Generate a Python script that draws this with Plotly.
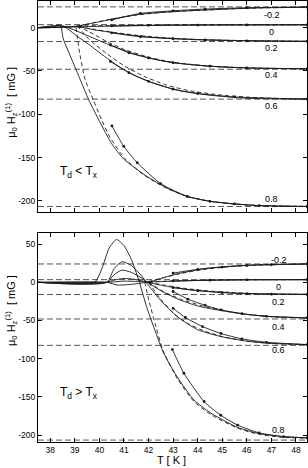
import plotly.graph_objects as go

# ---------------- data ----------------
params = ["-0.2", "0", "0.2", "0.4", "0.6", "0.8"]
asymptotes = [24, 3.5, -16, -48, -82.5, -206.5]

x_ticks = [38, 39, 40, 41, 42, 43, 44, 45, 46, 47, 48]
top_yticks = [0, -50, -100, -150, -200]
bot_yticks = [50, 0, -50, -100, -150, -200]

# ---- top panel (T_d < T_x) ----
top_m02_solid_T = [37.5, 38.5, 39.15, 39.6, 40.2, 41, 41.67, 42.5, 43.5, 44.3, 45.5, 46.5, 48.45]
top_m02_solid_v = [0, 0.5, 2, 4.5, 8, 12.5, 15.5, 17.5, 19.3, 20.3, 21.8, 22.8, 23.6]
top_m02_dash_T = [39.15, 39.8, 40.6, 41.5, 42.5, 44, 46, 48.45]
top_m02_dash_v = [2, 6, 10.5, 14.5, 17.5, 20, 22.5, 23.6]
top_m02_dot_T = [40.5, 41.67, 43, 44.3, 46, 48.45]
top_m02_dot_v = [9, 16.5, 19.5, 21.5, 23, 23.8]

top_0_solid_T = [37.5, 39.1, 40, 41, 42, 43.5, 45, 48.45]
top_0_solid_v = [0, 1, 1.5, 2, 2.5, 3, 3.2, 3.3]
top_0_dash_T = [39.1, 40.5, 42, 44, 48.45]
top_0_dash_v = [2, 2.5, 3, 3.2, 3.3]
top_0_dot_T = [40.5, 42, 44, 46, 48.45]
top_0_dot_v = [2, 2.7, 3, 3.2, 3.3]

top_02_solid_T = [37.5, 38.5, 39.15, 39.8, 40.5, 41.67, 43, 44.3, 46, 48.45]
top_02_solid_v = [0, 0.5, 1, -2.5, -5.5, -10, -12.5, -14, -15, -15.8]
top_02_dash_T = [39.15, 39.8, 40.6, 41.6, 42.8, 44.3, 46, 48.45]
top_02_dash_v = [1, -2, -5.5, -9, -12, -14, -15, -15.8]
top_02_dot_T = [40.5, 41.67, 43, 44.3, 46, 48.45]
top_02_dot_v = [-6, -10.5, -12.8, -14.2, -15.2, -15.8]

top_04_solid_T = [37.5, 38.5, 39.5, 40.5, 41.5, 42.5, 43.5, 44.5, 46, 48.45]
top_04_solid_v = [0, 2, -9, -21, -31, -38, -42, -44.5, -46.5, -47.5]
top_04_dash_T = [39.1, 39.6, 40.3, 41, 42, 43, 44.5, 46, 48.45]
top_04_dash_v = [2, -5, -16, -25, -34, -40, -44.5, -46.5, -47.5]
top_04_dot_T = [40.45, 41.2, 42, 43, 44.5, 46, 48.45]
top_04_dot_v = [-20, -29, -35, -40.5, -44.5, -46.5, -47.5]

top_06_solid_T = [37.5, 38.5, 39.1, 39.6, 40.2, 40.8, 41.5, 42.3, 43.3, 44.5, 46, 48.45]
top_06_solid_v = [0, 2, -10, -20, -33, -45, -56, -65, -73, -78, -81.5, -82.5]
top_06_dash_T = [39.1, 39.6, 40.3, 41, 41.8, 42.7, 43.7, 45, 46.5, 48.45]
top_06_dash_v = [2, -14, -30, -44, -56, -66, -73, -78, -81, -82.5]
top_06_dot_T = [40.45, 41.2, 42, 43, 44, 45.5, 48.45]
top_06_dot_v = [-39, -52, -62, -71, -76, -80, -82.5]

top_08_solid_T = [37.5, 38.0, 38.4, 38.53, 38.88, 39.22, 39.56, 40.0, 40.5, 41.0, 41.95, 42.8, 43.6, 44.5, 45.5, 46.5, 48.45]
top_08_solid_v = [0, 0, 3, -13, -37, -60, -83, -108, -134, -152, -172, -186, -195, -200.5, -203.5, -205.5, -206.5]
top_08_dash_T = [39.05, 39.2, 39.42, 39.76, 40.1, 40.44, 41, 41.8, 42.7, 43.6, 44.6, 45.6, 46.6, 48.45]
top_08_dash_v = [0, -30, -60, -84, -107, -127, -150, -170, -185, -195, -201, -204, -205.5, -206.5]
top_08_dot_T = [40.51, 40.99, 41.54, 42.49, 43.58, 44.5, 45.5, 46.5, 48.45]
top_08_dot_v = [-113.5, -137, -156, -180, -195, -200.5, -203.5, -205.5, -206.5]

# ---- bottom panel (T_d > T_x) ----
bot_m02_solid_T = [37.5, 40.3, 40.72, 41.2, 41.7, 42.1, 42.6, 43.3, 44.29, 44.95, 46, 47, 48.45]
bot_m02_solid_v = [0, 0, -3.5, -3, -1, 1, 6, 12, 18, 20, 22.5, 23.5, 24]
bot_m02_dash_T = [42.0, 42.6, 43.3, 44.3, 45.3, 46.5, 48.45]
bot_m02_dash_v = [1, 6, 11.5, 17, 20.5, 22.5, 24]
bot_m02_dot_T = [43.0, 44, 45, 46, 47, 48.45]
bot_m02_dot_v = [12, 17, 20, 22, 23, 24]

bot_0_solid_T = [37.5, 40.3, 41.0, 41.6, 42.05, 43, 44.5, 46, 48.45]
bot_0_solid_v = [0, 0, 1.5, 1, 0.5, 1.5, 2.8, 3.3, 3.5]
bot_0_dash_T = [42.0, 43, 44.5, 46, 48.45]
bot_0_dash_v = [0.5, 1.8, 2.8, 3.3, 3.5]
bot_0_dot_T = [43.0, 44.5, 46, 48.45]
bot_0_dot_v = [1.8, 2.8, 3.3, 3.5]

bot_02_solid_T = [37.5, 40.3, 40.6, 41.0, 41.4, 41.8, 42.1, 42.7, 43.5, 44.5, 45.5, 46.5, 48.45]
bot_02_solid_v = [0, 0, 3, 5, 4, 1.5, -1, -5, -9, -12, -14, -15, -15.8]
bot_02_dash_T = [42.0, 42.7, 43.5, 44.5, 45.5, 46.5, 48.45]
bot_02_dash_v = [0, -4, -8, -11.5, -13.5, -15, -15.8]
bot_02_dot_T = [43.0, 44, 45, 46, 47, 48.45]
bot_02_dot_v = [-7, -11, -13.5, -15, -15.5, -15.8]

bot_04_solid_T = [37.5, 40.3, 40.6, 40.92, 41.3, 41.7, 42.0, 42.5, 43.2, 44, 44.95, 46, 47, 48.45]
bot_04_solid_v = [0, 0, 10, 16, 13, 6, -1, -11, -22, -31, -37, -42, -45, -46.5]
bot_04_dash_T = [42.0, 42.6, 43.3, 44.2, 45.2, 46.3, 47.3, 48.45]
bot_04_dash_v = [0, -12, -22, -31, -38, -43, -45.5, -46.5]
bot_04_dot_T = [43.0, 43.6, 44.3, 44.95, 45.8, 46.8, 48.45]
bot_04_dot_v = [-12, -22, -30, -36, -41, -44.5, -46.5]

bot_06_solid_T = [37.5, 40.3, 40.6, 40.92, 41.3, 41.7, 42.0, 42.5, 43.17, 44.0, 44.95, 46, 47, 48.45]
bot_06_solid_v = [0, 0, 18, 27, 22, 9, -4, -24, -45, -62, -71, -77, -80, -81.5]
bot_06_dash_T = [42.0, 42.5, 43.0, 43.6, 44.3, 45, 46, 47, 48.45]
bot_06_dash_v = [0, -22, -40, -54, -64, -71, -77, -80, -81.5]
bot_06_dot_T = [43.0, 43.5, 44.2, 44.95, 45.8, 46.8, 48.45]
bot_06_dot_v = [-34, -46, -58, -67, -74, -78.5, -81.5]

bot_08_solid_T = [37.5, 39.8, 40.1, 40.4, 40.7, 41.0, 41.3, 41.6, 41.95, 42.25, 42.62, 43.17, 43.85, 44.53, 45.63, 46.5, 47.5, 48.45]
bot_08_solid_v = [0, 0, 18, 45, 56, 48, 30, 3, -35, -62, -93, -124, -154, -171, -190, -198, -202, -203.5]
bot_08_dash_T = [41.85, 42.0, 42.3, 42.6, 43.17, 43.85, 44.53, 45.63, 46.5, 47.5, 48.45]
bot_08_dash_v = [0, -22, -58, -90, -126, -156, -173, -191, -199, -203, -204]
bot_08_dot_T = [42.97, 43.44, 44.26, 44.94, 45.63, 46.5, 47.5, 48.45]
bot_08_dot_v = [-88, -119, -156, -174, -187, -197, -202, -203.5]

# label positions
top_label_T = 47.02
top_label_v = [14.7, -4.6, -23.8, -54.6, -90.4, -198.2]
bot_label_T = 47.3
bot_label_v = [29.2, -5.7, -25.4, -58.1, -88.6, -193.3]

# ---------------- figure ----------------
FONT = "Liberation Sans, Arial, Helvetica, sans-serif"
LC = "#1a1a1a"
fig = go.Figure()


def add(T, v, xa, ya, kind):
    if kind == "solid":
        fig.add_trace(go.Scatter(x=T, y=v, mode="lines", xaxis=xa, yaxis=ya,
                                 line=dict(color=LC, width=0.9, shape="spline", smoothing=0.6),
                                 showlegend=False, hoverinfo="skip"))
    elif kind == "dash":
        fig.add_trace(go.Scatter(x=T, y=v, mode="lines", xaxis=xa, yaxis=ya,
                                 line=dict(color=LC, width=0.9, dash="4px,3px", shape="spline", smoothing=0.6),
                                 showlegend=False, hoverinfo="skip"))
    else:
        fig.add_trace(go.Scatter(x=T, y=v, mode="lines+markers", xaxis=xa, yaxis=ya,
                                 line=dict(color=LC, width=0.9, shape="spline", smoothing=0.6),
                                 marker=dict(size=2.8, color=LC),
                                 showlegend=False, hoverinfo="skip"))


top_sets = [
    (top_m02_solid_T, top_m02_solid_v, top_m02_dash_T, top_m02_dash_v, top_m02_dot_T, top_m02_dot_v),
    (top_0_solid_T, top_0_solid_v, top_0_dash_T, top_0_dash_v, top_0_dot_T, top_0_dot_v),
    (top_02_solid_T, top_02_solid_v, top_02_dash_T, top_02_dash_v, top_02_dot_T, top_02_dot_v),
    (top_04_solid_T, top_04_solid_v, top_04_dash_T, top_04_dash_v, top_04_dot_T, top_04_dot_v),
    (top_06_solid_T, top_06_solid_v, top_06_dash_T, top_06_dash_v, top_06_dot_T, top_06_dot_v),
    (top_08_solid_T, top_08_solid_v, top_08_dash_T, top_08_dash_v, top_08_dot_T, top_08_dot_v),
]
bot_sets = [
    (bot_m02_solid_T, bot_m02_solid_v, bot_m02_dash_T, bot_m02_dash_v, bot_m02_dot_T, bot_m02_dot_v),
    (bot_0_solid_T, bot_0_solid_v, bot_0_dash_T, bot_0_dash_v, bot_0_dot_T, bot_0_dot_v),
    (bot_02_solid_T, bot_02_solid_v, bot_02_dash_T, bot_02_dash_v, bot_02_dot_T, bot_02_dot_v),
    (bot_04_solid_T, bot_04_solid_v, bot_04_dash_T, bot_04_dash_v, bot_04_dot_T, bot_04_dot_v),
    (bot_06_solid_T, bot_06_solid_v, bot_06_dash_T, bot_06_dash_v, bot_06_dot_T, bot_06_dot_v),
    (bot_08_solid_T, bot_08_solid_v, bot_08_dash_T, bot_08_dash_v, bot_08_dot_T, bot_08_dot_v),
]

XR = [37.5, 48.45]
for a in asymptotes:
    for xa, ya in (("x2", "y2"), ("x", "y")):
        fig.add_trace(go.Scatter(x=XR, y=[a, a], mode="lines", xaxis=xa, yaxis=ya,
                                 line=dict(color="#555555", width=1, dash="6px,3px"),
                                 showlegend=False, hoverinfo="skip"))

for s in top_sets:
    add(s[0], s[1], "x2", "y2", "solid")
    add(s[2], s[3], "x2", "y2", "dash")
    add(s[4], s[5], "x2", "y2", "dot")
for s in bot_sets:
    add(s[0], s[1], "x", "y", "solid")
    add(s[2], s[3], "x", "y", "dash")
    add(s[4], s[5], "x", "y", "dot")

tickfont = dict(family=FONT, size=8.5, color="black")
axis_common = dict(showgrid=False, zeroline=False, showline=True, linecolor="black", linewidth=1,
                   mirror="ticks", ticks="inside", ticklen=4, tickwidth=1, tickcolor="black",
                   tickfont=tickfont)

fig.update_layout(
    width=308, height=468,
    margin=dict(l=38, r=1, t=1, b=26),
    paper_bgcolor="white", plot_bgcolor="white",
    xaxis=dict(domain=[0, 1], anchor="y", range=XR, tickvals=x_ticks,
               ticktext=[str(t) for t in x_ticks], **axis_common),
    yaxis=dict(domain=[0, 0.4728], anchor="x", range=[-209, 63.9], tickvals=bot_yticks,
               ticktext=[str(t) for t in bot_yticks], **axis_common),
    xaxis2=dict(domain=[0, 1], anchor="y2", range=XR, tickvals=x_ticks, showticklabels=False,
                **axis_common),
    yaxis2=dict(domain=[0.5209, 1], anchor="x2", range=[-213.2, 30.8], tickvals=top_yticks,
                ticktext=[str(t) for t in top_yticks], **axis_common),
)

ann = []
for lab, v in zip(params, top_label_v):
    ann.append(dict(x=top_label_T, y=v, xref="x2", yref="y2", text=lab, showarrow=False,
                    font=dict(family=FONT, size=9, color="black")))
for lab, v in zip(params, bot_label_v):
    ann.append(dict(x=bot_label_T, y=v, xref="x", yref="y", text=lab, showarrow=False,
                    font=dict(family=FONT, size=9, color="black")))
ann.append(dict(x=39.18, y=-166.6, xref="x2", yref="y2", text="T<sub>d</sub> &lt; T<sub>x</sub>",
                showarrow=False, font=dict(family=FONT, size=12, color="black")))
ann.append(dict(x=39.18, y=-145, xref="x", yref="y", text="T<sub>d</sub> &gt; T<sub>x</sub>",
                showarrow=False, font=dict(family=FONT, size=12, color="black")))
ytitle = "μ<sub>0</sub> H<sub>z</sub><sup>(1)</sup>  [ mG ]"
for yy in (0.769, 0.297):
    ann.append(dict(x=0, y=yy, xref="paper", yref="paper", xshift=-27, text=ytitle, textangle=-90,
                    showarrow=False, xanchor="center", yanchor="middle",
                    font=dict(family=FONT, size=11, color="black")))
ann.append(dict(x=0.498, y=0, xref="paper", yref="paper", yshift=-25.5, text="T [ K ]",
                showarrow=False, xanchor="center", yanchor="bottom",
                font=dict(family=FONT, size=11, color="black")))
fig.update_layout(annotations=ann)

fig.write_html("out.html", config={"displayModeBar": False},
               post_script="document.body.style.margin='0';document.body.style.overflow='hidden';")
